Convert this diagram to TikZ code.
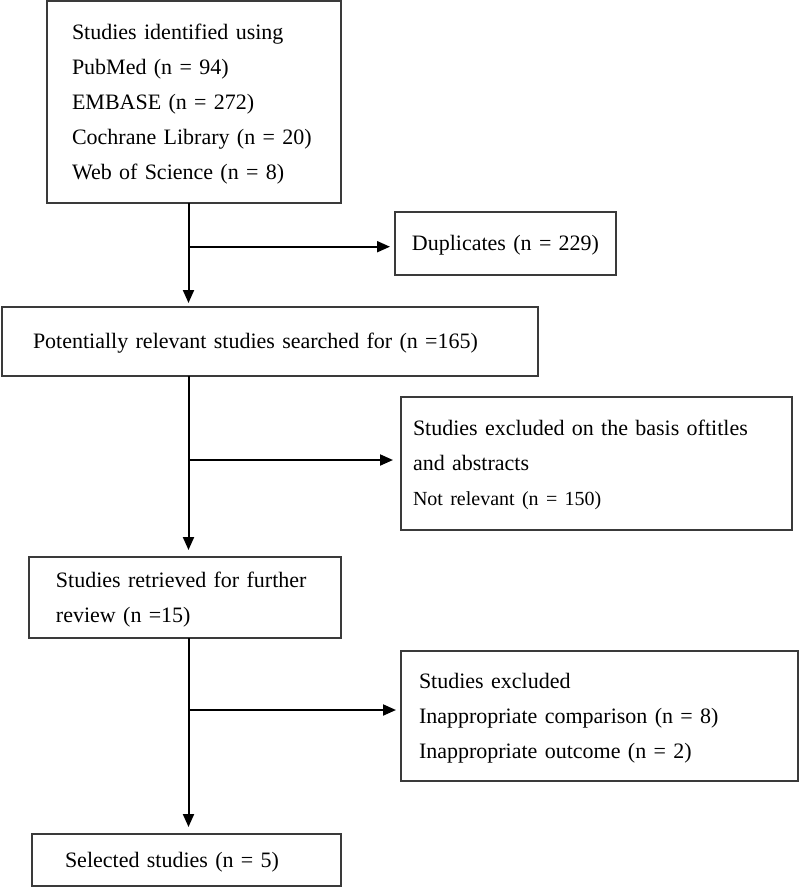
\documentclass[tikz,border=0pt]{standalone}
\usepackage{fontspec}
\setmainfont{Liberation Serif}
\usetikzlibrary{arrows.meta,positioning}
\definecolor{boxline}{HTML}{3A3A3A}
\begin{document}
\begin{tikzpicture}[x=1pt,y=-1pt,
  flowbox/.style={draw=boxline,line width=1.4pt,rectangle,anchor=north west,outer sep=0pt,
    font=\fontsize{22}{35}\selectfont,align=left,inner ysep=0pt,
    execute at begin node=\strut,execute at end node=\strut},
  arr/.style={line width=2pt,-{Triangle[length=13pt,width=11pt]}}]
\useasboundingbox (0,0) rectangle (800,887);
% boxes
\node[flowbox,inner xsep=25pt,text width=244pt,minimum height=202pt] (ident) at (47,1)
  {Studies identified using\\PubMed (n = 94)\\EMBASE (n = 272)\\Cochrane Library (n = 20)\\Web of Science (n = 8)};
\node[flowbox,align=center,inner xsep=8pt,text width=205pt,minimum height=63pt] (dup) at (395,212)
  {Duplicates (n = 229)};
\node[flowbox,inner xsep=31pt,text width=474pt,minimum height=69pt] (pot) at (2,307)
  {Potentially relevant studies searched for (n =165)};
\node[flowbox,inner xsep=12pt,text width=367pt,minimum height=133pt] (excl1) at (401,397)
  {Studies excluded on the basis oftitles\\and abstracts\\{\fontsize{20}{33}\selectfont Not relevant (n = 150)}};
\node[flowbox,inner xsep=27pt,text width=258pt,minimum height=81pt] (retr) at (29,557)
  {Studies retrieved for further\\review (n =15)};
\node[flowbox,inner xsep=18pt,text width=361pt,minimum height=130pt] (excl2) at (401,651)
  {Studies excluded\\Inappropriate comparison (n = 8)\\Inappropriate outcome (n = 2)};
\node[flowbox,inner xsep=33pt,text width=243pt,minimum height=52pt] (sel) at (32,834)
  {Selected studies (n = 5)};
% spine and branch points
\coordinate (spine) at (188.5,0);
\coordinate (j1) at (188.5,246.7);
\coordinate (j2) at (188.5,460);
\coordinate (j3) at (188.5,710);
% vertical connectors
\draw[arr,shorten >=4pt] (ident.south -| spine) -- (pot.north -| spine);
\draw[arr,shorten >=7pt] (pot.south -| spine) -- (retr.north -| spine);
\draw[arr,shorten >=7pt] (retr.south -| spine) -- (sel.north -| spine);
% horizontal connectors
\draw[arr,shorten >=5pt] (j1) -- (j1 -| dup.west);
\draw[arr,shorten >=8pt] (j2) -- (j2 -| excl1.west);
\draw[arr,shorten >=5pt] (j3) -- (j3 -| excl2.west);
\end{tikzpicture}
\end{document}
